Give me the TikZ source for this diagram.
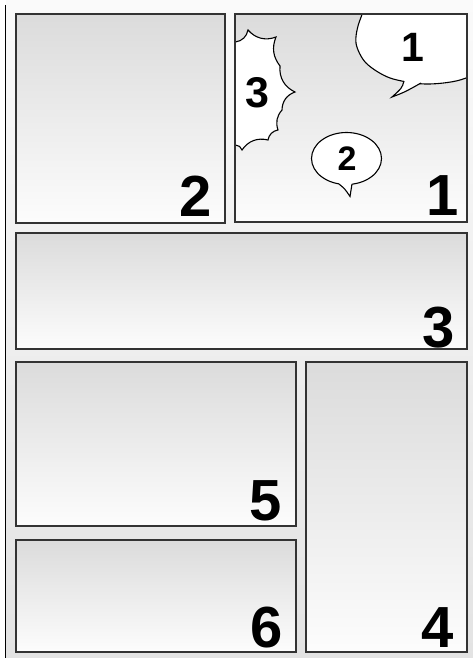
\documentclass[tikz,border=0pt]{standalone}
\usepackage{fontspec}
\setmainfont{Liberation Sans}
\usepackage{tikz}

\tikzset{
  panel/.style={draw=black!80, line width=1.3pt, top color=black!14, bottom color=black!1},
  frame/.style={draw=black!80, line width=1.3pt},
  bignum/.style={anchor=base, inner sep=0pt, font=\bfseries\fontsize{58}{58}\selectfont},
  smallnum/.style={inner sep=0pt, font=\bfseries\fontsize{#1}{#1}\selectfont},
  balloon/.style={draw=black, line width=1.1pt, fill=white},
}

\begin{document}
\begin{tikzpicture}[x=1pt,y=-1pt]
        \useasboundingbox (0,0) rectangle (473,658);
        % Page
        \fill[top color=black!2, bottom color=black!11] (6,0) rectangle (473,658);
        \draw[line width=1.3pt] (5.5,5) -- (5.5,658);
        % Panels
        \draw[panel] (16,14) rectangle (225,223);
        \draw[panel] (235,14) rectangle (467,222);
        \draw[panel] (16,233) rectangle (467,349);
        \draw[panel] (16,362) rectangle (296,526);
        \draw[panel] (16,540) rectangle (296,652);
        \draw[panel] (306,362) rectangle (467,652);
        % Balloons in panel 1
        \begin{scope}
            \clip (235,14) rectangle (467,222);
            \draw[balloon] plot[smooth cycle] coordinates {(375,-4) (360,20) (356,43) (366,63) (390,78) (425,84) (460,80) (490,65) (500,35) (480,5) (430,-8)};
            \fill[white] (404,76) -- (404,81) .. controls (402,88) .. (392,97) .. controls (405,92) .. (421,83) -- (421,78) -- cycle;
            \draw[line width=1.1pt] (404,81) .. controls (402,88) .. (392,97) .. controls (405,92) .. (421,83);
            \draw[balloon] (346.5,158.5) ellipse [x radius=35, y radius=26];
            \fill[white] (339,180) -- (339,184) .. controls (345,189) .. (350,196.5) .. controls (351,190) .. (352,184) -- (352,180) -- cycle;
            \draw[line width=1.1pt] (339,184) .. controls (345,189) .. (350,196.5) .. controls (351,190) .. (352,184);
            \draw[balloon] (234,42) -- (235.5,42) to[bend right=35] (248,30) to[bend right=35] (276,37)
                to[bend right=30] (280,66) to[bend right=35] (295,92) to[bend right=35] (282,110)
                to[bend right=30] (278,130) to[bend right=35] (268,140) to[bend right=35] (242,150)
                to[bend right=35] (235.5,145) -- (234,145) -- cycle;
        \end{scope}
        \draw[frame] (235,14) rectangle (467,222);
        % Balloon texts
        \node[smallnum=41] (b1) at (413,47) {1};
        \node[smallnum=34] (b2) at (347,158.5) {2};
        \node[smallnum=43] (b3) at (257,93) {3};
        % Panel numbers
        \node[bignum] (n1) at (443,215) {1};
        \node[bignum] (n2) at (196,216) {2};
        \node[bignum] (n3) at (439,347) {3};
        \node[bignum] (n4) at (437.5,647) {4};
        \node[bignum] (n5) at (266,520) {5};
        \node[bignum] (n6) at (267,647) {6};
    \end{tikzpicture}
\end{document}
